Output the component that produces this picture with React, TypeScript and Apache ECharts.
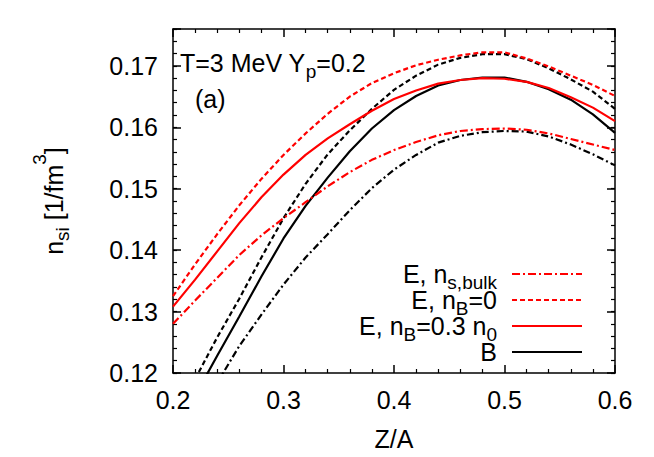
import React, { useEffect, useRef } from "react";
import * as echarts from "echarts";

const FONT = "'Liberation Sans', Arial, Helvetica, sans-serif";

// Z/A grid
const zOverA = [0.2, 0.22, 0.24, 0.26, 0.28, 0.3, 0.32, 0.34, 0.36, 0.38, 0.4, 0.42, 0.44, 0.46, 0.48, 0.5, 0.52, 0.54, 0.56, 0.58, 0.6];

// E, n_s,bulk (red dash-dot)
const eBulk = [0.128, 0.1318, 0.1355, 0.1392, 0.1424, 0.1452, 0.1478, 0.1504, 0.1527, 0.1547, 0.1563, 0.1576, 0.1587, 0.1594, 0.1597, 0.1598, 0.1596, 0.159, 0.1581, 0.1572, 0.1563];
// E, n_B=0 (red dashed)
const eNB0 = [0.1325, 0.1377, 0.1426, 0.1473, 0.1516, 0.1555, 0.159, 0.1622, 0.165, 0.1672, 0.1688, 0.1701, 0.171, 0.1717, 0.1722, 0.1722, 0.1712, 0.1699, 0.1684, 0.1669, 0.1651];
// E, n_B=0.3 n_0 (red solid)
const eNB03 = [0.1308, 0.1352, 0.1398, 0.1444, 0.1486, 0.1523, 0.1555, 0.1582, 0.1605, 0.1627, 0.1646, 0.166, 0.1671, 0.1677, 0.168, 0.1679, 0.1674, 0.1664, 0.1649, 0.1632, 0.161];
// B (black solid)
const bSolid = [null, 0.1163, 0.1228, 0.1292, 0.1357, 0.1419, 0.1472, 0.1518, 0.1561, 0.1598, 0.1628, 0.1651, 0.1668, 0.1677, 0.1681, 0.1681, 0.1674, 0.1662, 0.1645, 0.1621, 0.1591];
// black dashed
const bDashed = [null, 0.119, 0.1258, 0.1321, 0.1388, 0.1452, 0.1508, 0.1556, 0.1595, 0.163, 0.1661, 0.1684, 0.1702, 0.1713, 0.1719, 0.1719, 0.1711, 0.1696, 0.1678, 0.1658, 0.163];
// black dash-dot
const bDashDot = [null, null, 0.1184, 0.1244, 0.1295, 0.1344, 0.1388, 0.1426, 0.1465, 0.1501, 0.1531, 0.1555, 0.1575, 0.1586, 0.1592, 0.1594, 0.1593, 0.1585, 0.1572, 0.1556, 0.1538];

const xMin = 0.2;
const xMax = 0.6;
const xStep = 0.1;
const yMin = 0.12;
const yMax = 0.176;
const yStep = 0.01;
const yMinorStep = 0.002;

const legendNames = ["E, ns,bulk", "E, nB=0", "E, nB=0.3 n0", "B"];
const legendRich: Record<string, string> = {
  "E, ns,bulk": "E, n{sub|s,bulk}",
  "E, nB=0": "E, n{sub|B}=0",
  "E, nB=0.3 n0": "E, n{sub|B}=0.3 n{sub|0}",
  B: "B",
};

const RED = "#ff0000";
const BLACK = "#000000";

function pairs(vals: (number | null)[]) {
  return zOverA.map((x, i) => [x, vals[i]]);
}

export default function App() {
  const ref = useRef<HTMLDivElement>(null);
  useEffect(() => {
    if (!ref.current) return;
    const chart = echarts.init(ref.current, null, { renderer: "svg" });
    const FS = 25;
    const LEG_LH = 44;
    const ROW = 26;
    const axisLine = { show: true, onZero: false, lineStyle: { color: BLACK, width: 1.5 } };
    const major = { show: true, inside: true, length: 8, lineStyle: { color: BLACK, width: 1.5 } };
    const minor = { show: true, inside: true, length: 4, lineStyle: { color: BLACK, width: 1.2 } };
    const subStyle = { fontSize: 19, fontFamily: FONT, color: BLACK, lineHeight: 10, padding: [16, 0, 0, 0] };
    const supStyle = { fontSize: 19, fontFamily: FONT, color: BLACK, lineHeight: 10, padding: [0, 0, 30, 0] };
    const lineSeries = (name: string, vals: (number | null)[], color: string, type: any, z: number) => ({
      type: "line",
      name,
      data: pairs(vals),
      symbol: "none",
      showSymbol: false,
      clip: true,
      silent: true,
      z,
      lineStyle: { color, width: 2.2, type },
      itemStyle: { color },
      emphasis: { disabled: true },
    });
    chart.setOption({
      animation: false,
      backgroundColor: "#ffffff",
      textStyle: { fontFamily: FONT },
      grid: { left: 173, right: 39, top: 29, bottom: 84, containLabel: false },
      title: [
        {
          text: "T=3 MeV Y{sub|p}=0.2",
          left: 180,
          top: 50,
          padding: 0,
          textStyle: {
            fontSize: FS,
            fontWeight: "normal",
            color: BLACK,
            fontFamily: FONT,
            lineHeight: 26,
            rich: { sub: subStyle },
          },
        },
        {
          text: "(a)",
          left: 195,
          top: 86,
          padding: 0,
          textStyle: { fontSize: FS, fontWeight: "normal", color: BLACK, fontFamily: FONT, lineHeight: 26 },
        },
      ],
      legend: {
        data: legendNames,
        orient: "vertical",
        align: "right",
        right: 71,
        top: 274 - LEG_LH / 2,
        padding: 0,
        itemWidth: 70,
        itemHeight: ROW,
        itemGap: ROW - LEG_LH,
        selectedMode: false,
        itemStyle: { opacity: 0 },
        formatter: (name: string) => legendRich[name] ?? name,
        textStyle: {
          fontSize: FS,
          color: BLACK,
          fontFamily: FONT,
          lineHeight: LEG_LH,
          padding: [0, 10, 0, 0],
          rich: { sub: subStyle },
        },
      },
      xAxis: [
        {
          type: "value",
          position: "bottom",
          min: xMin,
          max: xMax,
          interval: xStep,
          axisLine,
          axisTick: major,
          minorTick: { ...minor, splitNumber: 5 },
          splitLine: { show: false },
          axisLabel: {
            fontSize: FS,
            color: BLACK,
            fontFamily: FONT,
            margin: 14,
            formatter: (v: number) => v.toFixed(1),
          },
          name: "Z/A",
          nameLocation: "middle",
          nameGap: 53,
          nameTextStyle: { fontSize: FS, color: BLACK, fontFamily: FONT },
        },
        {
          type: "value",
          position: "top",
          min: xMin,
          max: xMax,
          interval: xStep,
          axisLine,
          axisTick: major,
          minorTick: { ...minor, splitNumber: 5 },
          splitLine: { show: false },
          axisLabel: { show: false },
        },
      ],
      yAxis: [
        {
          type: "value",
          position: "left",
          min: yMin,
          max: yMax,
          interval: yStep,
          axisLine,
          axisTick: major,
          splitLine: { show: false },
          axisLabel: {
            fontSize: FS,
            color: BLACK,
            fontFamily: FONT,
            margin: 15,
            formatter: (v: number) => (Math.abs(v * 100 - Math.round(v * 100)) < 1e-6 ? v.toFixed(2) : ""),
          },
          name: "n{sub|si} [1/fm{sup|3}]",
          nameLocation: "middle",
          nameRotate: 90,
          nameGap: 106,
          nameTextStyle: {
            fontSize: FS,
            color: BLACK,
            fontFamily: FONT,
            lineHeight: 26,
            rich: { sub: subStyle, sup: supStyle },
          },
        },
        {
          type: "value",
          position: "left",
          min: yMin,
          max: yMax,
          interval: yMinorStep,
          axisLine: { show: false },
          axisTick: minor,
          splitLine: { show: false },
          axisLabel: { show: false },
        },
        {
          type: "value",
          position: "right",
          min: yMin,
          max: yMax,
          interval: yStep,
          axisLine,
          axisTick: major,
          splitLine: { show: false },
          axisLabel: { show: false },
        },
        {
          type: "value",
          position: "right",
          min: yMin,
          max: yMax,
          interval: yMinorStep,
          axisLine: { show: false },
          axisTick: minor,
          splitLine: { show: false },
          axisLabel: { show: false },
        },
      ],
      series: [
        lineSeries("black dash-dot", bDashDot, BLACK, [7, 3, 2, 3], 2),
        lineSeries("black dashed", bDashed, BLACK, [5, 3], 2),
        lineSeries("B", bSolid, BLACK, "solid", 2),
        lineSeries("E, ns,bulk", eBulk, RED, [8, 3, 2, 3], 3),
        lineSeries("E, nB=0", eNB0, RED, [5, 3], 3),
        lineSeries("E, nB=0.3 n0", eNB03, RED, "solid", 3),
      ],
    });
    return () => chart.dispose();
  }, []);
  return (
    <div
      ref={ref}
      style={{ position: "fixed", left: 0, top: 0, width: 654, height: 457, background: "#fff" }}
    />
  );
}
